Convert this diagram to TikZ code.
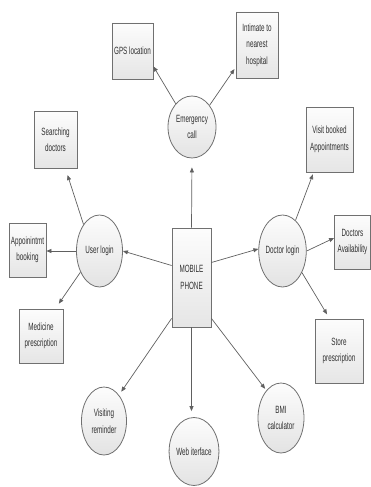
\documentclass[tikz,border=0pt]{standalone}
\usepackage{fontspec}
\setmainfont[FakeStretch=0.6]{Liberation Sans}
\usetikzlibrary{arrows.meta,calc,shapes.geometric}
\definecolor{edgegray}{HTML}{707070}
\definecolor{linegray}{HTML}{606060}
\definecolor{txtgray}{HTML}{303030}
\tikzset{
  boxnode/.style={draw=edgegray, line width=0.8pt, rectangle, inner sep=0pt, align=center,
    top color=gray!2, bottom color=gray!20, text=txtgray,
    font=\fontsize{10.5}{16.5}\selectfont},
  circnode/.style={draw=edgegray, line width=0.8pt, ellipse, inner sep=0pt, align=center,
    top color=gray!2, bottom color=gray!22, text=txtgray,
    font=\fontsize{10.5}{16.5}\selectfont},
  conn/.style={draw=linegray, line width=0.7pt, -{Triangle[length=5pt,width=4pt]}}
}
\begin{document}
\begin{tikzpicture}[x=1pt,y=-1pt]
\useasboundingbox (0,0) rectangle (371,487);
% boxes
\node[boxnode, minimum width=41pt, minimum height=56pt] (gps) at (132.5,51) {GPS location};
\node[boxnode, minimum width=42pt, minimum height=66pt] (intimate) at (257,45) {Intimate to\\nearest\\hospital};
\node[boxnode, minimum width=43pt, minimum height=57pt] (search) at (55.5,139.5) {Searching\\doctors};
\node[boxnode, minimum width=47pt, minimum height=65pt] (visit) at (329.5,139.5) {Visit booked\\Appointments};
\node[boxnode, minimum width=37pt, minimum height=54pt] (appt) at (27.5,250) {Appoinintmt\\booking};
\node[boxnode, minimum width=39pt, minimum height=99pt] (mobile) at (191.5,277.5) {MOBILE\\PHONE};
\node[boxnode, minimum width=36pt, minimum height=54pt] (avail) at (352.5,242) {Doctors\\Availability};
\node[boxnode, minimum width=44pt, minimum height=54pt] (medicine) at (41,336) {Medicine\\prescription};
\node[boxnode, minimum width=48pt, minimum height=64pt] (store) at (339,351) {Store\\prescription};
% circles
\node[circnode, minimum width=48pt, minimum height=62pt] (emergency) at (192,127) {Emergency\\call};
\node[circnode, minimum width=46pt, minimum height=72pt] (user) at (99.5,251) {User login};
\node[circnode, minimum width=47pt, minimum height=72pt] (doctor) at (282.5,251) {Doctor login};
\node[circnode, minimum width=45pt, minimum height=68pt] (visiting) at (104,421) {Visiting\\reminder};
\node[circnode, minimum width=46pt, minimum height=68pt] (web) at (194,451.5) {Web iterface};
\node[circnode, minimum width=46pt, minimum height=70pt] (bmi) at (281,418) {BMI\\calculator};
% connectors
\draw[conn] (emergency.125) -- ($(gps.south east)+(0,-13)$);
\draw[conn, shorten >=2pt] (emergency.51) -- ($(intimate.south west)+(0,-11)$);
\draw[conn, shorten >=9pt] (mobile.north) -- (emergency.south);
\draw[conn] ($(mobile.west)+(0,-12)$) -- (user.east);
\draw[conn] ($(mobile.east)+(0,-15)$) -- (doctor.175);
\draw[conn, shorten >=4pt] ($(mobile.south west)+(0,-9)$) -- (visiting.60);
\draw[conn, shorten >=6pt] (mobile.south) -- (mobile.south |- web.north);
\draw[conn, shorten >=2pt] ($(mobile.south east)+(0,-9)$) -- (bmi.118);
\draw[conn, shorten >=7pt] (user.121) -- ($(search.south east)+(-12,0)$);
\draw[conn] (user.west) -- (user.west -| appt.east);
\draw[conn, shorten >=6pt] (user.228) -- ($(medicine.north east)+(-8,0)$);
\draw[conn, shorten >=2pt] (doctor.67) -- ($(visit.south west)+(8,0)$);
\draw[conn] (doctor.east) -- ($(avail.west)+(0,-4)$);
\draw[conn, shorten >=5pt] (doctor.-48) -- ($(store.north west)+(15,0)$);
\end{tikzpicture}
\end{document}
